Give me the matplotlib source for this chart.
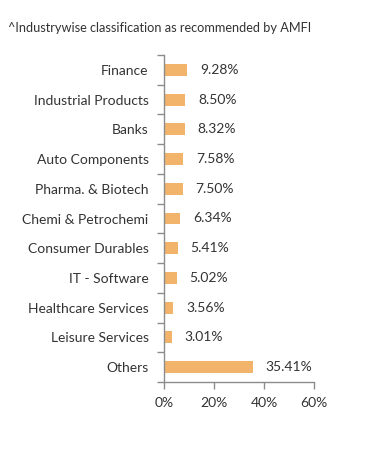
import numpy as np
import matplotlib.pyplot as plt

# sector allocation (%)
sectors = ['Finance', 'Industrial Products', 'Banks', 'Auto Components',
           'Pharma. & Biotech', 'Chemi & Petrochemi', 'Consumer Durables',
           'IT - Software', 'Healthcare Services', 'Leisure Services', 'Others']
weights = [9.28, 8.50, 8.32, 7.58, 7.50, 6.34, 5.41, 5.02, 3.56, 3.01, 35.41]
xticks = [0, 20, 40, 60]

plt.rcParams['font.family'] = ['Lato', 'DejaVu Sans']
txt = '#333333'
axc = '#8c8c8c'

fig = plt.figure(figsize=(3.91, 4.5), dpi=100)
ax = fig.add_axes([164/391, 1 - 382/450, 150/391, 327/450])

y = np.arange(len(sectors))
ax.barh(y, weights, height=0.4, color='#f2b36b')
for yi, w in zip(y, weights):
    ax.text(w + 5.2, yi, '{:.2f}%'.format(w), va='center', ha='left',
            fontsize=10, color=txt)

ax.set_xlim(0, 60)
ax.set_ylim(len(sectors) - 0.5, -0.5)
ax.set_xticks(xticks)
ax.set_xticklabels(['{}%'.format(t) for t in xticks], fontsize=10, color=txt)
ax.set_yticks(y)
ax.set_yticklabels(sectors, fontsize=10, color=txt)
ax.set_yticks(np.arange(len(sectors) + 1) - 0.5, minor=True)
ax.tick_params(axis='y', which='major', length=0, pad=11)
ax.tick_params(axis='y', which='minor', length=5, color=axc, width=1)
ax.tick_params(axis='x', length=5, color=axc, width=1, pad=6)

for s in ['top', 'right']:
    ax.spines[s].set_visible(False)
for s in ['left', 'bottom']:
    ax.spines[s].set_color(axc)
    ax.spines[s].set_linewidth(1)

fig.text(8/391, 1 - 28/450, '^Industrywise classification as recommended by AMFI',
         fontsize=9.2, color=txt, va='center', ha='left')

fig.savefig('out.png', dpi=100)
